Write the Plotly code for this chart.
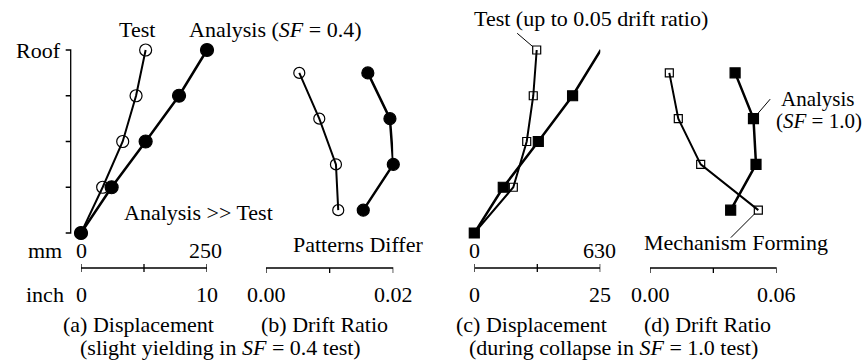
import plotly.graph_objects as go

W, H = 867, 363
FONT = "Liberation Serif, Times New Roman, serif"
FS = 22

# ---------------- data ----------------
floor_levels = [0, 1, 2, 3, 4]          # base ... roof
story_levels = [0.5, 1.5, 2.5, 3.5]     # mid-story (drift ratio)

disp_a_test = [0, 1.72, 3.31, 4.37, 5.13]          # inch
disp_a_analysis = [0, 2.43, 5.13, 7.78, 10.0]      # inch
drift_b_test = [0.01135, 0.01099, 0.00837, 0.00523]
drift_b_analysis = [0.01528, 0.0200, 0.01947, 0.0160]
disp_c_test = [0, 7.74, 10.4, 11.7, 12.38]          # inch
disp_c_analysis = [0, 5.75, 12.7, 19.5, 25.1]       # inch
drift_d_test = [0.0513, 0.024, 0.0134, 0.00915]
drift_d_analysis = [0.0382, 0.0502, 0.049, 0.0403]

inch_ticks_a = [0, 5, 10]
inch_text_a = ["0", "", "10"]
mm_labels_a = [0, 250]
drift_ticks_b = [0, 0.01, 0.02]
drift_text_b = ["0.00", "", "0.02"]
inch_ticks_c = [0, 12.5, 25]
inch_text_c = ["0", "", "25"]
mm_labels_c = [0, 630]
drift_ticks_d = [0, 0.03, 0.06]
drift_text_d = ["0.00", "", "0.06"]


def px(x):
    return x / W


def py(y):
    return 1 - y / H


# ---------------- geometry (pixels) ----------------
BASE_PX, ROOF_PX, BAR_PX = 233, 50, 268
LEVEL_PX = (BASE_PX - ROOF_PX) / 4.0          # pixels per storey
Y_DOM_PX = (20, 300)                           # data y-axis domain (top, bottom)
Y_RANGE = [-(Y_DOM_PX[1] - BASE_PX) / LEVEL_PX, (BASE_PX - Y_DOM_PX[0]) / LEVEL_PX]
Y_BAR = -(BAR_PX - BASE_PX) / LEVEL_PX        # level value of scale bars
TICK_UP = 4 / LEVEL_PX
TICK_DOWN = -5 / LEVEL_PX
YAX_PX = 70.7                                  # storey axis line
X7_DOM = (40, 100)                             # 1 unit = 1 px
X7_RANGE = [X7_DOM[0] - YAX_PX, X7_DOM[1] - YAX_PX]

fig = go.Figure()


def add(x, y, xa, symbol, size, lw):
    fig.add_trace(go.Scatter(
        x=x, y=y, xaxis=xa, yaxis="y", mode="lines+markers",
        line=dict(color="black", width=lw),
        marker=dict(symbol=symbol, size=size, color="black",
                    line=dict(color="black", width=1.2)),
        cliponaxis=False, showlegend=False, hoverinfo="skip"))


def bar(xa, tv, tick, cross):
    xs, ys = [], []
    for i, t in enumerate(tv):
        if i == 0:
            xs += [t, t, t] if cross else [t, t]
            ys += ([Y_BAR - tick, Y_BAR + tick, Y_BAR] if cross
                   else [Y_BAR + tick, Y_BAR])
        else:
            if cross:
                xs += [t, t, t, t]
                ys += [Y_BAR, Y_BAR + tick, Y_BAR - tick, Y_BAR]
            else:
                xs += [t, t, t]
                ys += [Y_BAR, Y_BAR + tick, Y_BAR]
    fig.add_trace(go.Scatter(
        x=xs, y=ys, xaxis=xa, yaxis="y", mode="lines",
        line=dict(color="black", width=1.3), cliponaxis=False,
        showlegend=False, hoverinfo="skip"))


bar("x", inch_ticks_a, TICK_UP, True)
bar("x2", drift_ticks_b, TICK_DOWN, False)
bar("x3", inch_ticks_c, TICK_UP, True)
bar("x4", drift_ticks_d, TICK_DOWN, False)

# storey axis with left-pointing ticks
sx, sy = [], []
for i, L in enumerate(floor_levels):
    if i == 0:
        sx += [-5, 0]
        sy += [L, L]
    else:
        sx += [0, -5, 0]
        sy += [L, L, L]
fig.add_trace(go.Scatter(x=sx, y=sy, xaxis="x7", yaxis="y", mode="lines",
                         line=dict(color="black", width=1.3), cliponaxis=False,
                         showlegend=False, hoverinfo="skip"))

add(disp_a_test, floor_levels, "x", "circle-open", 12, 2)
add(disp_a_analysis, floor_levels, "x", "circle", 13, 2.5)
add(drift_b_test, story_levels, "x2", "circle-open", 11, 2)
add(drift_b_analysis, story_levels, "x2", "circle", 12, 2.5)
add(disp_c_test, floor_levels, "x3", "square-open", 8, 2)
add(disp_c_analysis, floor_levels, "x3", "square", 10, 2.5)
add(drift_d_test, story_levels, "x4", "square-open", 8, 2)
add(drift_d_analysis, story_levels, "x4", "square", 10, 2.5)


def xaxis(dom, rng):
    return dict(domain=[px(dom[0]), px(dom[1])], range=rng, anchor="y",
                visible=False, showgrid=False, zeroline=False)


fig.update_layout(
    width=W, height=H, margin=dict(l=0, r=0, t=0, b=0, pad=0, autoexpand=False),
    paper_bgcolor="white", plot_bgcolor="rgba(0,0,0,0)",
    font=dict(family=FONT, size=FS, color="black"),
    xaxis=xaxis((81, 207), [0, 10]),
    xaxis2=xaxis((266, 393.3), [0, 0.02]),
    xaxis3=xaxis((474.3, 600.3), [0, 25]),
    xaxis4=xaxis((650, 776.7), [0, 0.06]),
    xaxis7=dict(domain=[px(X7_DOM[0]), px(X7_DOM[1])], range=X7_RANGE, anchor="y",
                visible=False, showgrid=False, zeroline=False),
    yaxis=dict(domain=[py(Y_DOM_PX[1]), py(Y_DOM_PX[0])], range=Y_RANGE, anchor="x7",
               visible=False, showgrid=False, zeroline=False),
)

ann = []


def text(t, x, y, xref="paper", size=FS):
    ann.append(dict(text=t, x=x if xref == "paper" and False else
                    (px(x) if xref == "paper" else x), y=py(y), xref=xref,
                    yref="paper", xanchor="center", yanchor="middle", showarrow=False,
                    font=dict(family=FONT, size=size, color="black")))


ann.append(dict(text="Roof", x=px(YAX_PX - 8), y=floor_levels[-1], xref="paper",
                yref="y", xanchor="right", yanchor="middle", showarrow=False,
                font=dict(family=FONT, size=FS, color="black")))

# tick labels of the scale bars (inch row / drift ratio row)
for xref, tv, tt in (("x", inch_ticks_a, inch_text_a), ("x2", drift_ticks_b, drift_text_b),
                     ("x3", inch_ticks_c, inch_text_c), ("x4", drift_ticks_d, drift_text_d)):
    for v, s in zip(tv, tt):
        if s:
            text(s, v, 294, xref=xref)
# millimetre row
for v in mm_labels_a:
    text(str(v), v / 25.4, 250, xref="x")
for v in mm_labels_c:
    text(str(v), v / 25.4, 250, xref="x3")

text("Test", 137, 29)
text("Analysis (<i>SF</i> = 0.4)", 275, 29)
text("Analysis &gt;&gt; Test", 198.5, 212)
text("Patterns Differ", 357.5, 244)
text("mm", 45, 250)
text("inch", 45, 294)
text("(a) Displacement", 138, 324)
text("(slight yielding in <i>SF</i> = 0.4 test)", 221, 347)
text("(b) Drift Ratio", 324, 324)
text("Test (up to 0.05 drift ratio)", 591, 18)
text("(c) Displacement", 531.5, 324)
text("(during collapse in <i>SF</i> = 1.0 test)", 613, 347)
text("(d) Drift Ratio", 707, 324)
text("Analysis", 818, 99, size=21)
text("(<i>SF</i> = 1.0)", 819, 121, size=21)
text("Mechanism Forming", 735.5, 242)


def leader(x, y, xref, ax, ay, standoff):
    ann.append(dict(text="", x=x, y=y, xref=xref, yref="y", ax=ax, ay=ay,
                    showarrow=True, arrowhead=0, arrowwidth=1, arrowcolor="black",
                    standoff=standoff))


leader(disp_c_test[4], floor_levels[4], "x3", -21, -18, 5)
leader(drift_d_analysis[2], story_levels[2], "x4", 18, -21, 6)
leader(drift_d_test[0], story_levels[0], "x4", -29, 29, 5)

fig.update_layout(annotations=ann)
fig.write_html("out.html")
